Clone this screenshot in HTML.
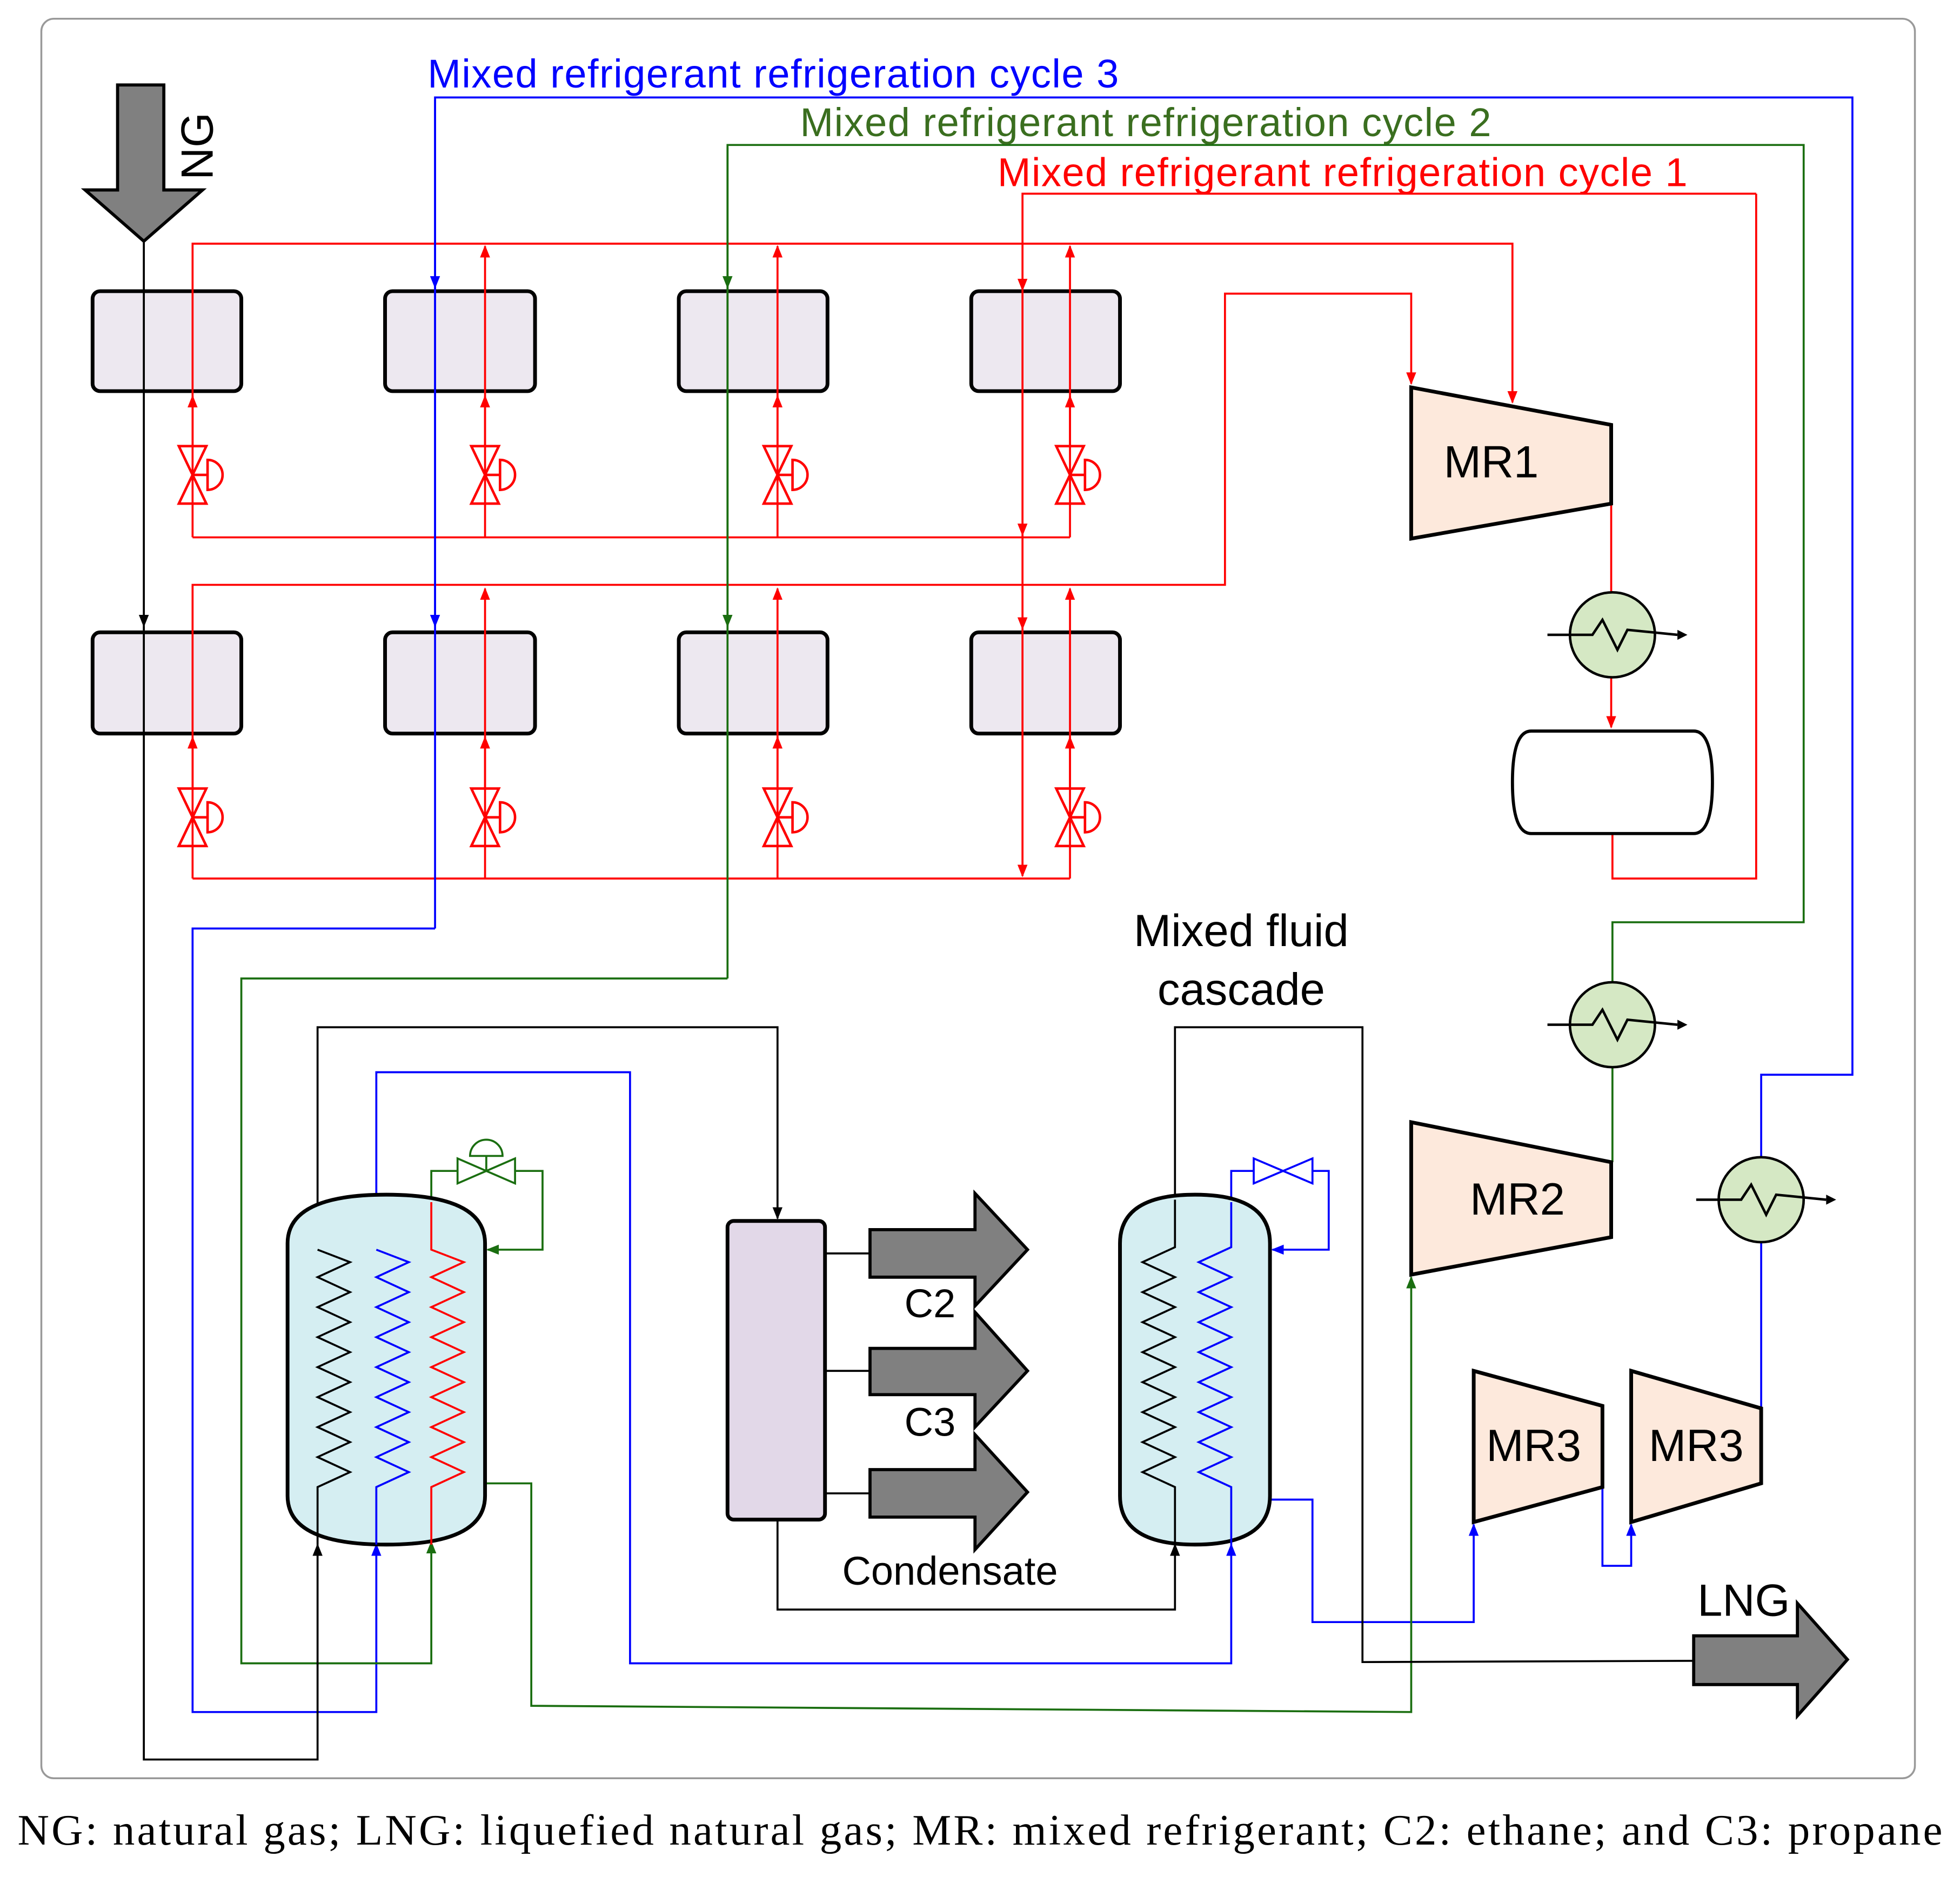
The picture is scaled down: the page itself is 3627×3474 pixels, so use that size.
<!DOCTYPE html>
<html><head><meta charset="utf-8"><style>html,body{margin:0;padding:0;background:#fff}svg{display:block}</style></head><body>
<svg width="3627" height="3474" viewBox="0 0 1568 1502" xmlns="http://www.w3.org/2000/svg" font-family="Liberation Sans, sans-serif">
<defs>
<marker id="ar" markerWidth="10" markerHeight="10" refX="9" refY="5" orient="auto" markerUnits="userSpaceOnUse"><path d="M0,1 L10,5 L0,9 Z" fill="#f00"/></marker>
<marker id="ab" markerWidth="10" markerHeight="10" refX="9" refY="5" orient="auto" markerUnits="userSpaceOnUse"><path d="M0,1 L10,5 L0,9 Z" fill="#00f"/></marker>
<marker id="ag" markerWidth="10" markerHeight="10" refX="9" refY="5" orient="auto" markerUnits="userSpaceOnUse"><path d="M0,1 L10,5 L0,9 Z" fill="#1a6e10"/></marker>
<marker id="ak" markerWidth="10" markerHeight="10" refX="9" refY="5" orient="auto" markerUnits="userSpaceOnUse"><path d="M0,1 L10,5 L0,9 Z" fill="#000"/></marker>
<g id="valve" fill="none" stroke="#f00" stroke-width="2"><path d="M-11,-23 L11,-23 L-11,23 L11,23 Z"/><path d="M0,0 L12,0 M12,-12 A12,12 0 0 1 12,12 Z"/></g>
<g id="cooler"><circle r="34" fill="#d5e8c4" stroke="#000" stroke-width="2"/><path d="M-52,0 L-16,0 L-8,-12 L4,12 L12,-4 L52,0" fill="none" stroke="#000" stroke-width="2"/><path d="M52,-4 L60,0 L52,4 Z" fill="#000"/></g>
</defs>
<rect x="33" y="15" width="1499" height="1408" rx="10" fill="none" stroke="#999" stroke-width="1.5"/>
<g fill="#ede8f0" stroke="#000" stroke-width="3">
<rect x="74" y="233" width="119" height="80" rx="6"/><rect x="308" y="233" width="120" height="80" rx="6"/><rect x="543" y="233" width="119" height="80" rx="6"/><rect x="777" y="233" width="119" height="80" rx="6"/>
<rect x="74" y="506" width="119" height="81" rx="6"/><rect x="308" y="506" width="120" height="81" rx="6"/><rect x="543" y="506" width="119" height="81" rx="6"/><rect x="777" y="506" width="119" height="81" rx="6"/>
</g>
<g fill="none" stroke="#f00" stroke-width="1.6">
<path d="M154,430 L154,195 L1210,195 L1210,322" marker-end="url(#ar)"/>
<path d="M154,358 L154,317" marker-end="url(#ar)"/>
<path d="M388,430 L388,197" marker-end="url(#ar)"/><path d="M388,358 L388,317" marker-end="url(#ar)"/>
<path d="M622,430 L622,197" marker-end="url(#ar)"/><path d="M622,358 L622,317" marker-end="url(#ar)"/>
<path d="M856,430 L856,197" marker-end="url(#ar)"/><path d="M856,358 L856,317" marker-end="url(#ar)"/>
<path d="M154,430 L856,430"/>
<path d="M1405,155 L818,155 L818,232" marker-end="url(#ar)"/>
<path d="M818,232 L818,428" marker-end="url(#ar)"/><path d="M818,428 L818,503" marker-end="url(#ar)"/><path d="M818,503 L818,701" marker-end="url(#ar)"/>
<path d="M1405,155 L1405,703 L1290,703 L1290,667"/>
<path d="M154,703 L154,468 L980,468 L980,235 L1129,235 L1129,307" marker-end="url(#ar)"/>
<path d="M154,632 L154,590" marker-end="url(#ar)"/>
<path d="M388,703 L388,471" marker-end="url(#ar)"/><path d="M388,632 L388,590" marker-end="url(#ar)"/>
<path d="M622,703 L622,471" marker-end="url(#ar)"/><path d="M622,632 L622,590" marker-end="url(#ar)"/>
<path d="M856,703 L856,471" marker-end="url(#ar)"/><path d="M856,632 L856,590" marker-end="url(#ar)"/>
<path d="M154,703 L856,703"/>
<path d="M1289,403 L1289,474"/><path d="M1289,542 L1289,582" marker-end="url(#ar)"/>
</g>
<g fill="#fff"><use href="#valve" x="154" y="380"/><use href="#valve" x="388" y="380"/><use href="#valve" x="622" y="380"/><use href="#valve" x="856" y="380"/>
<use href="#valve" x="154" y="654"/><use href="#valve" x="388" y="654"/><use href="#valve" x="622" y="654"/><use href="#valve" x="856" y="654"/></g>
<g fill="none" stroke="#00f" stroke-width="1.6">
<path d="M348,743 L348,78 L1482,78 L1482,860 L1409,860 L1409,926"/>
<path d="M348,80 L348,230" marker-end="url(#ab)"/><path d="M348,230 L348,501" marker-end="url(#ab)"/>
<path d="M348,743 L154,743 L154,1370 L301,1370 L301,1236" marker-end="url(#ab)"/>
<path d="M301,1000 L301,858 L504,858 L504,1331 L985,1331 L985,1236" marker-end="url(#ab)"/>
<path d="M1016,1200 L1050,1200 L1050,1298 L1179,1298 L1179,1220" marker-end="url(#ab)"/>
<path d="M1282,1190 L1282,1253 L1305,1253 L1305,1220" marker-end="url(#ab)"/>
<path d="M1409,1127 L1409,994"/>
<path d="M985,962 L985,937 L1063,937 L1063,1000 L1018,1000" marker-end="url(#ab)"/>
<path d="M1003,927 L1050,947 L1050,927 L1003,947 Z" fill="#fff"/>
</g>
<g fill="none" stroke="#1a6e10" stroke-width="1.6">
<path d="M582,783 L582,116 L1443,116 L1443,738 L1290,738 L1290,786"/>
<path d="M582,118 L582,230" marker-end="url(#ag)"/><path d="M582,230 L582,501" marker-end="url(#ag)"/>
<path d="M582,783 L193,783 L193,1331 L345,1331 L345,1234" marker-end="url(#ag)"/>
<path d="M1290,854 L1290,930"/>
<path d="M388,1187 L425,1187 L425,1365 L1129,1370 L1129,1022" marker-end="url(#ag)"/>
<path d="M345,962 L345,937 L434,937 L434,1000 L390,1000" marker-end="url(#ag)"/>
<path d="M366,927 L412,947 L412,927 L366,947 Z" fill="#fff"/>
<path d="M389,937 L389,925 M376,925 A13,13 0 0 1 402,925 Z" fill="#fff"/>
</g>
<g fill="none" stroke="#000" stroke-width="1.6">
<path d="M115,190 L115,501" marker-end="url(#ak)"/>
<path d="M115,501 L115,1408 L254,1408 L254,1236" marker-end="url(#ak)"/>
<path d="M254,1000 L254,822 L622,822 L622,975" marker-end="url(#ak)"/>
<path d="M622,1216 L622,1288 L940,1288 L940,1236" marker-end="url(#ak)"/>
<path d="M940,960 L940,822 L1090,822 L1090,1330 L1356,1329"/>
<path d="M660,1003 L700,1003 M660,1097 L700,1097 M660,1195 L700,1195"/>
</g>
<path d="M230,995 Q230,956 309,956 Q388,956 388,995 L388,1197 Q388,1236 309,1236 Q230,1236 230,1197 Z" fill="#d5eef2" stroke="#000" stroke-width="3"/>
<path d="M896,995 Q896,956 956,956 Q1016,956 1016,995 L1016,1197 Q1016,1236 956,1236 Q896,1236 896,1197 Z" fill="#d5eef2" stroke="#000" stroke-width="3"/>
<g fill="none" stroke-width="1.6">
<path d="M254,1236 L254,1190 L280,1178 L254,1166 L280,1154 L254,1142 L280,1130 L254,1118 L280,1106 L254,1094 L280,1082 L254,1070 L280,1058 L254,1046 L280,1034 L254,1022 L280,1010 L254,1000" stroke="#000"/>
<path d="M301,1236 L301,1190 L327,1178 L301,1166 L327,1154 L301,1142 L327,1130 L301,1118 L327,1106 L301,1094 L327,1082 L301,1070 L327,1058 L301,1046 L327,1034 L301,1022 L327,1010 L301,1000" stroke="#00f"/>
<path d="M345,1236 L345,1190 L371,1178 L345,1166 L371,1154 L345,1142 L371,1130 L345,1118 L371,1106 L345,1094 L371,1082 L345,1070 L371,1058 L345,1046 L371,1034 L345,1022 L371,1010 L345,1000 L345,962" stroke="#f00"/>
<path d="M940,1236 L940,1190 L914,1178 L940,1166 L914,1154 L940,1142 L914,1130 L940,1118 L914,1106 L940,1094 L914,1082 L940,1070 L914,1058 L940,1046 L914,1034 L940,1022 L914,1010 L940,998 L940,960" stroke="#000"/>
<path d="M985,1236 L985,1190 L959,1178 L985,1166 L959,1154 L985,1142 L959,1130 L985,1118 L959,1106 L985,1094 L959,1082 L985,1070 L959,1058 L985,1046 L959,1034 L985,1022 L959,1010 L985,998 L985,962" stroke="#00f"/>
</g>
<rect x="582" y="977" width="78" height="239" rx="5" fill="#e2d8e8" stroke="#000" stroke-width="3"/>
<g fill="#808080" stroke="#000" stroke-width="2.5">
<path d="M696,984 L780,984 L780,955 L822,1000 L780,1045 L780,1022 L696,1022 Z"/>
<path d="M696,1079 L780,1079 L780,1050 L822,1097 L780,1142 L780,1116 L696,1116 Z"/>
<path d="M696,1176 L780,1176 L780,1148 L822,1194 L780,1240 L780,1214 L696,1214 Z"/>
<path d="M1355,1309 L1438,1309 L1438,1283 L1478,1328 L1438,1373 L1438,1348 L1355,1348 Z"/>
<path d="M94,68 L131,68 L131,152 L162,152 L115,193 L68,152 L94,152 Z"/>
</g>
<g fill="#fde9dc" stroke="#000" stroke-width="3">
<path d="M1129,310 L1289,340 L1289,403 L1129,431 Z"/>
<path d="M1129,898 L1289,930 L1289,990 L1129,1020 Z"/>
<path d="M1179,1097 L1282,1125 L1282,1190 L1179,1218 Z"/>
<path d="M1305,1097 L1409,1127 L1409,1187 L1305,1218 Z"/>
</g>
<path d="M1225,585 L1355,585 Q1370,585 1370,626 Q1370,667 1355,667 L1225,667 Q1210,667 1210,626 Q1210,585 1225,585 Z" fill="#fff" stroke="#000" stroke-width="2.5"/>
<use href="#cooler" x="1290" y="508"/><use href="#cooler" x="1290" y="820"/><use href="#cooler" x="1409" y="960"/>
<g font-size="36" fill="#000" text-anchor="middle">
<text x="1193" y="382">MR1</text><text x="1214" y="972">MR2</text><text x="1227" y="1169">MR3</text><text x="1357" y="1169">MR3</text>
<text x="993" y="757">Mixed fluid</text><text x="993" y="804">cascade</text>
<text x="1395" y="1293">LNG</text>
<text x="744" y="1054" font-size="32">C2</text><text x="744" y="1149" font-size="32">C3</text><text x="760" y="1268" font-size="32">Condensate</text>
<text transform="translate(170,117) rotate(-90)" font-size="36">NG</text>
</g>
<g font-size="32">
<text x="342" y="70" fill="#00f" textLength="553">Mixed refrigerant refrigeration cycle 3</text>
<text x="640" y="109" fill="#3a6e1f" textLength="553">Mixed refrigerant refrigeration cycle 2</text>
<text x="798" y="149" fill="#f00" textLength="552">Mixed refrigerant refrigeration cycle 1</text>
</g>
<text x="784" y="1476" text-anchor="middle" font-family="Liberation Serif, serif" font-size="35" textLength="1540">NG: natural gas; LNG: liquefied natural gas; MR: mixed refrigerant; C2: ethane; and C3: propane</text>
</svg>
</body></html>
